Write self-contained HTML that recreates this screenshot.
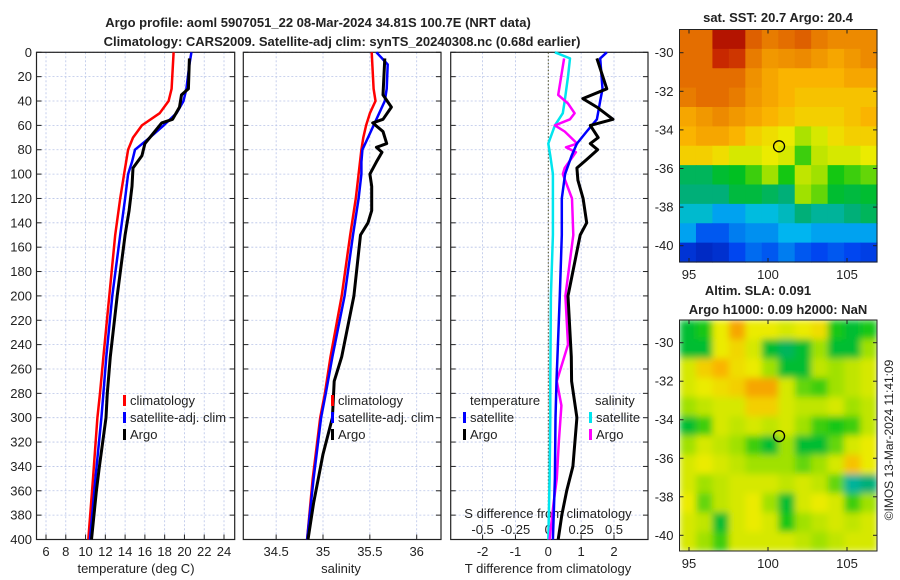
<!DOCTYPE html>
<html><head><meta charset="utf-8">
<style>
html,body{margin:0;padding:0;background:#fff;}
svg{display:block;font-family:"Liberation Sans","DejaVu Sans",sans-serif;}
text{fill:#222;}
</style></head>
<body>
<svg id="c" width="900" height="580" viewBox="0 0 900 580" xmlns="http://www.w3.org/2000/svg">
<defs>
<filter id="blur" x="0" y="0" width="1" height="1"><feGaussianBlur stdDeviation="3.5" edgeMode="duplicate"/></filter>
<clipPath id="clipSla"><rect x="679.5" y="320" width="197.5" height="231"/></clipPath>
</defs>
<text x="318" y="27" text-anchor="middle" font-size="13" font-weight="bold">Argo profile: aoml 5907051_22 08-Mar-2024 34.81S 100.7E (NRT data)</text>
<text x="342" y="46" text-anchor="middle" font-size="13" font-weight="bold">Climatology: CARS2009. Satellite-adj clim: synTS_20240308.nc (0.68d earlier)</text>
<text x="778" y="22" text-anchor="middle" font-size="13" font-weight="bold">sat. SST: 20.7 Argo: 20.4</text>
<text x="758" y="295" text-anchor="middle" font-size="13" font-weight="bold">Altim. SLA: 0.091</text>
<text x="778" y="314" text-anchor="middle" font-size="13" font-weight="bold">Argo h1000: 0.09 h2000: NaN</text>
<text transform="translate(893,440) rotate(-90)" text-anchor="middle" font-size="12">©IMOS 13-Mar-2024 11:41:09</text>
<g id="g"></g>
</svg>
<script>
// ---------- data ----------
const depthTicks = [0,20,40,60,80,100,120,140,160,180,200,220,240,260,280,300,320,340,360,380,400];
const tempTicks = [6,8,10,12,14,16,18,20,22,24];
const salTicks = [34.5,35,35.5,36];
const salTickLabels = ["34.5","35","35.5","36"];
const tdTicks = [-2,-1,0,1,2];
const sdTicks = [-0.5,-0.25,0,0.25,0.5];
const sdTickLabels = ["-0.5","-0.25","0","0.25","0.5"];

const climDepth = [0,30,40,50,60,70,80,100,120,150,200,250,280,300,350,400];
const climTemp  = [18.9,18.7,18.4,17.5,15.7,14.8,14.3,13.9,13.5,13.0,12.4,11.8,11.46,11.2,10.75,10.28];
const satDepth  = [0,10,30,40,50,60,70,80,90,100,120,150,200,250,280,300,350,400];
const satTemp   = [20.7,20.5,20.2,19.9,19.2,17.9,16.5,15.0,14.7,14.3,14.0,13.5,12.7,12.1,11.8,11.6,11.0,10.45];
const argoDepth = [5,30,35,45,55,58,65,75,85,95,110,130,150,200,250,280,300,340,360,400];
const argoTemp  = [20.5,20.4,19.7,19.5,18.8,17.7,17.0,16.0,15.7,14.8,14.7,14.4,14.0,13.2,12.5,12.2,12.07,11.4,11.1,10.6];

const climSal = [35.52,35.54,35.56,35.50,35.46,35.43,35.41,35.38,35.35,35.29,35.20,35.08,35.02,34.97,34.89,34.83];
const satSal  = [35.57,35.69,35.68,35.66,35.60,35.54,35.48,35.42,35.41,35.41,35.38,35.32,35.23,35.10,35.03,34.98,34.90,34.83];
const argoSalDepth = [5,35,45,55,58,65,75,78,82,90,100,110,130,140,150,200,250,270,300,330,350,370,400];
const argoSal = [35.66,35.64,35.73,35.64,35.53,35.64,35.68,35.57,35.63,35.57,35.50,35.52,35.52,35.48,35.40,35.33,35.20,35.12,35.10,35.0,34.95,34.9,34.84];

const tSatDepth = [0,5,30,40,55,65,75,85,100,120,150,200,270,300,350,400];
const tSatDiff  = [1.78,1.58,1.65,1.58,1.48,1.17,0.87,0.71,0.51,0.41,0.41,0.35,0.25,0.22,0.2,0.14];
const tArgoDepth = [5,30,38,45,55,60,70,75,80,88,95,105,120,140,150,200,250,270,300,340,360,380,400];
const tArgoDiff  = [1.48,1.78,1.05,1.48,1.97,1.28,1.52,1.28,1.5,1.17,0.87,0.9,1.06,1.17,0.97,0.6,0.7,0.71,0.87,0.75,0.56,0.41,0.3];
const sSatDepth = [0,5,20,40,50,60,75,85,100,150,200,270,300,350,400];
const sSatDiff  = [0.05,0.165,0.15,0.125,0.11,0.05,0.0,0.015,0.035,0.035,0.02,0.015,0.015,0.01,0.0];
const sArgoDepth = [5,35,42,50,55,60,65,75,78,82,95,100,120,150,200,240,270,290,320,350,370,400];
const sArgoDiff  = [0.12,0.075,0.15,0.2,0.165,0.05,0.125,0.22,0.135,0.21,0.125,0.11,0.18,0.19,0.13,0.15,0.065,0.1,0.08,0.065,0.04,0.01];

const lonTicks = [95,100,105];
const latTicks = [-30,-32,-34,-36,-38,-40];
const sstGrid = [
[.80,.80,.95,.95,.82,.78,.80,.82,.78,.76,.76,.76],
[.80,.80,.90,.88,.78,.74,.75,.76,.74,.72,.74,.76],
[.80,.80,.80,.80,.75,.72,.70,.70,.70,.70,.72,.72],
[.78,.80,.80,.78,.74,.72,.70,.68,.68,.68,.68,.68],
[.72,.74,.76,.74,.72,.70,.68,.66,.66,.66,.68,.70],
[.70,.72,.72,.70,.66,.64,.62,.56,.60,.64,.66,.66],
[.66,.66,.64,.60,.60,.62,.60,.50,.58,.60,.60,.62],
[.42,.42,.45,.46,.50,.55,.48,.58,.55,.48,.50,.52],
[.40,.40,.40,.44,.44,.42,.40,.55,.52,.45,.44,.45],
[.35,.35,.30,.30,.34,.34,.36,.40,.38,.38,.40,.42],
[.30,.22,.22,.26,.28,.28,.32,.32,.30,.30,.30,.30],
[.15,.12,.14,.20,.24,.22,.26,.22,.20,.22,.20,.18]];
const slaGrid = [
[.45,.48,.62,.72,.62,.62,.60,.62,.64,.48,.45,.48],
[.45,.45,.62,.65,.60,.45,.42,.45,.55,.45,.45,.55],
[.60,.66,.70,.64,.62,.55,.45,.45,.58,.55,.58,.60],
[.60,.62,.64,.66,.72,.72,.60,.52,.50,.55,.58,.60],
[.55,.58,.60,.60,.66,.66,.60,.58,.58,.60,.55,.58],
[.45,.50,.60,.58,.60,.58,.60,.55,.50,.48,.50,.58],
[.55,.60,.58,.55,.50,.45,.55,.45,.45,.52,.60,.62],
[.60,.62,.60,.58,.55,.55,.55,.52,.55,.60,.68,.62],
[.60,.55,.58,.60,.60,.60,.58,.60,.58,.52,.38,.40],
[.62,.52,.58,.60,.62,.55,.45,.60,.62,.60,.50,.55],
[.60,.58,.45,.60,.62,.60,.48,.55,.58,.60,.58,.60],
[.60,.55,.50,.60,.60,.60,.60,.58,.55,.58,.60,.60]];
const argoLon = 100.7, argoLat = -34.85;

// ---------- helpers ----------
const NS="http://www.w3.org/2000/svg";
const G=document.getElementById('g');
function mk(tag,attrs,parent){const e=document.createElementNS(NS,tag);for(const k in attrs)e.setAttribute(k,attrs[k]);(parent||G).appendChild(e);return e;}
function txt(x,y,s,size,anchor,parent){const t=mk('text',{x:x,y:y,'font-size':size,'text-anchor':anchor||'middle'},parent);t.textContent=s;return t;}

const PT=52.3, PB=539.5;
const yD = d => PT + d*(PB-PT)/400;
function lin(d0,d1,r0,r1){return v=>r0+(v-d0)*(r1-r0)/(d1-d0);}
const xT = lin(6,24,46,224);
const xS = lin(35,36,323,416.7);
const xTD = lin(0,2,548.3,614);
const xSD = lin(0,0.5,548.3,614);

function panel(name,x0,x1,xTicksPx){
  const g=mk('g',{});
  
  
  depthTicks.forEach(d=>mk('line',{x1:x0,x2:x1,y1:yD(d),y2:yD(d),stroke:'#b8c4e8','stroke-width':0.8,'stroke-dasharray':'2,2'},g));
  xTicksPx.forEach(x=>mk('line',{x1:x,x2:x,y1:PT,y2:PB,stroke:'#b8c4e8','stroke-width':0.8,'stroke-dasharray':'2,2'},g));
  mk('rect',{x:x0,y:PT,width:x1-x0,height:PB-PT,fill:'none',stroke:'#222','stroke-width':1.2},g);
  depthTicks.forEach(d=>{mk('line',{x1:x0,x2:x0+5,y1:yD(d),y2:yD(d),stroke:'#222'},g);mk('line',{x1:x1-5,x2:x1,y1:yD(d),y2:yD(d),stroke:'#222'},g);});
  xTicksPx.forEach(x=>{mk('line',{x1:x,x2:x,y1:PB,y2:PB-5,stroke:'#222'},g);});
  return g;
}
function line(depths,vals,xf,color,w,name,parent){
  const p=depths.map((d,i)=>(i?'L':'M')+xf(vals[i]).toFixed(1)+','+yD(d).toFixed(1)).join('');
  const e=mk('path',{d:p,fill:'none',stroke:color,'stroke-width':w,'stroke-linejoin':'round'},parent);
  
  
  return e;
}
function legendItem(x,y,color,label,parent,name){
  mk('rect',{x:x,y:y-10,width:3,height:11,fill:color},parent);
  const t=txt(x+7,y,label,13,'start',parent);
  
  
}

// Panel 1 temperature
const p1=panel('temperature-panel',36.5,234.7,tempTicks.map(xT));
depthTicks.forEach(d=>{const t=txt(32,yD(d)+4.5,String(d),13,'end');

});
tempTicks.forEach(v=>txt(xT(v),556,String(v),13,'middle',p1));
const xt1=txt(136,573,'temperature (deg C)',13,'middle',p1);


line(climDepth,climTemp,xT,'#ff0000',2.5,'clim-temp-line',p1);
line(satDepth,satTemp,xT,'#0000ff',2.5,'sat-temp-line',p1);
line(argoDepth,argoTemp,xT,'#000000',3,'argo-temp-line',p1);
legendItem(123,405,'#ff0000','climatology',p1,'legend-climatology');
legendItem(123,422,'#0000ff','satellite-adj. clim',p1,'legend-satellite-adj');
legendItem(123,439,'#000000','Argo',p1,'legend-argo');

// Panel 2 salinity
const p2=panel('salinity-panel',243.3,441,salTicks.map(xS));
salTicks.forEach((v,i)=>txt(xS(v),556,salTickLabels[i],13,'middle',p2));
const xt2=txt(341,573,'salinity',13,'middle',p2);


line(climDepth,climSal,xS,'#ff0000',2.5,'clim-sal-line',p2);
line(satDepth,satSal,xS,'#0000ff',2.5,'sat-sal-line',p2);
line(argoSalDepth,argoSal,xS,'#000000',3,'argo-sal-line',p2);
legendItem(331,405,'#ff0000','climatology',p2,'legend-climatology-sal');
legendItem(331,422,'#0000ff','satellite-adj. clim',p2,'legend-satellite-adj-sal');
legendItem(331,439,'#000000','Argo',p2,'legend-argo-sal');

// Panel 3 differences
const p3=panel('difference-panel',450.7,648,tdTicks.map(xTD));
mk('line',{x1:xTD(0),x2:xTD(0),y1:PT,y2:PB,stroke:'#4a4a20','stroke-width':1,'stroke-dasharray':'1.5,2'},p3);
tdTicks.forEach(v=>txt(xTD(v),556,String(v),13,'middle',p3));
const xt3=txt(548,573,'T difference from climatology',13,'middle',p3);


sdTicks.forEach((v,i)=>txt(xSD(v),534,sdTickLabels[i],13,'middle',p3));
const xt4=txt(548,518,'S difference from climatology',13,'middle',p3);


line(sSatDepth,sSatDiff,xSD,'#00e5ee',2.5,'sat-sal-diff-line',p3);
line(sArgoDepth,sArgoDiff,xSD,'#ff00ff',2.5,'argo-sal-diff-line',p3);
line(tSatDepth,tSatDiff,xTD,'#0000ff',2.5,'sat-temp-diff-line',p3);
line(tArgoDepth,tArgoDiff,xTD,'#000000',3,'argo-temp-diff-line',p3);
txt(470,405,'temperature',13,'start',p3);
legendItem(463,422,'#0000ff','satellite',p3,'legend-t-satellite');
legendItem(463,439,'#000000','Argo',p3,'legend-t-argo');
txt(595,405,'salinity',13,'start',p3);
legendItem(589,422,'#00e5ee','satellite',p3,'legend-s-satellite');
legendItem(589,439,'#ff00ff','Argo',p3,'legend-s-argo');

// ---------- maps ----------
const cmapStops=[[0,[0,0,130]],[0.2,[0,70,240]],[0.33,[0,190,240]],[0.4,[0,175,120]],[0.47,[0,195,20]],[0.55,[160,225,0]],[0.62,[235,235,0]],[0.7,[250,180,0]],[0.8,[228,110,0]],[0.9,[200,40,0]],[1,[160,0,0]]];
function cmap(v){
  v=Math.max(0,Math.min(1,v));
  for(let i=1;i<cmapStops.length;i++){
    const [a,ca]=cmapStops[i-1],[b,cb]=cmapStops[i];
    if(v<=b){const t=(v-a)/(b-a);return 'rgb('+ca.map((c,k)=>Math.round(c+(cb[k]-c)*t)).join(',')+')';}
  }
  return 'rgb(160,0,0)';
}
function map(name,grid,top,bottom,lat0y,lat40y,smooth){
  const x0=679.5,x1=877;
  const xL=lin(95,105,689,847);
  const yL=lin(-30,-40,lat0y,lat40y);
  const g=mk('g',{});
  
  
  const outer=smooth?mk('g',{'clip-path':'url(#clipSla)'},g):g;
  const cellsG=smooth?mk('g',{filter:'url(#blur)'},outer):g;
  const rows=grid.length, cols=grid[0].length;
  const cw=(x1-x0)/cols, ch=(bottom-top)/rows;
  grid.forEach((row,r)=>row.forEach((v,c)=>{
    const cell=mk('rect',{x:(x0+c*cw).toFixed(2),y:(top+r*ch).toFixed(2),width:(cw+0.6).toFixed(2),height:(ch+0.6).toFixed(2),fill:cmap(v)},cellsG);
    
    
  }));
  mk('rect',{x:x0,y:top,width:x1-x0,height:bottom-top,fill:'none',stroke:'#222','stroke-width':1},g);
  lonTicks.forEach(v=>{mk('line',{x1:xL(v),x2:xL(v),y1:bottom,y2:bottom-4,stroke:'#222'},g);mk('line',{x1:xL(v),x2:xL(v),y1:top,y2:top+4,stroke:'#222'},g);txt(xL(v),bottom+17,String(v),13,'middle',g);});
  latTicks.forEach(v=>{mk('line',{x1:x0,x2:x0+4,y1:yL(v),y2:yL(v),stroke:'#222'},g);mk('line',{x1:x1-4,x2:x1,y1:yL(v),y2:yL(v),stroke:'#222'},g);txt(x0-6,yL(v)+4.5,String(v),13,'end',g);});
  const m=mk('circle',{cx:xL(argoLon),cy:yL(argoLat),r:5.5,fill:'none',stroke:'#000','stroke-width':1.3},g);
  
  
}
map('sst-map',sstGrid,29.5,262,52.7,245.7,false);
map('sla-map',slaGrid,320,551,342.7,535.3,true);
</script>
</body></html>
